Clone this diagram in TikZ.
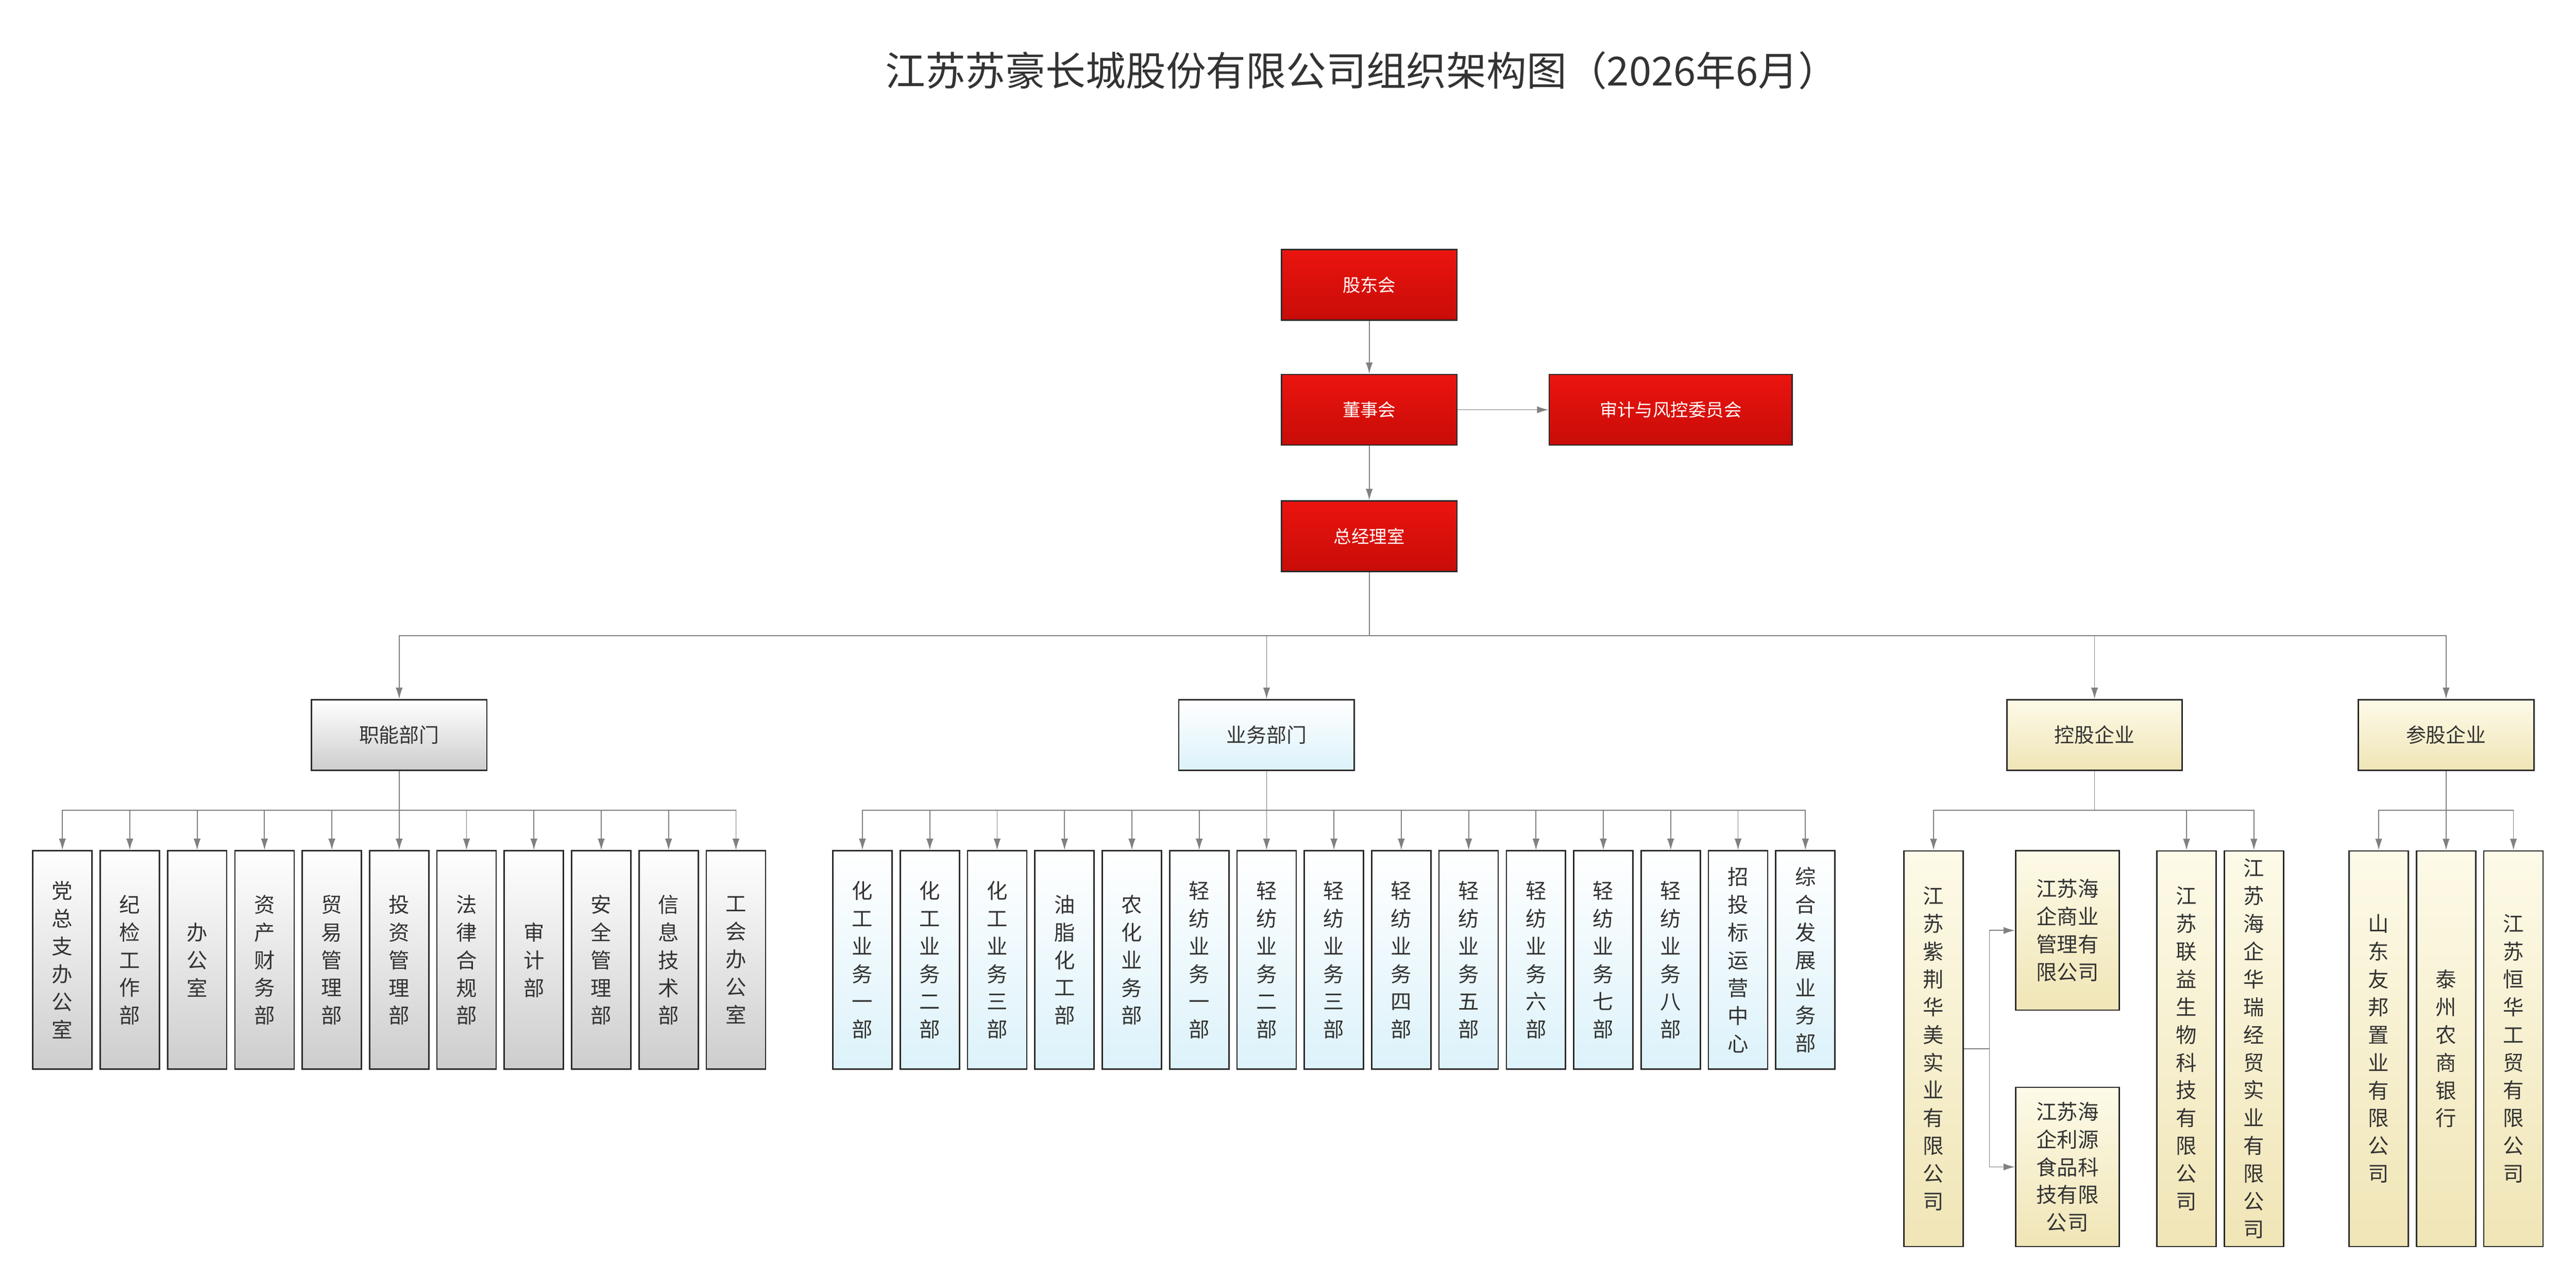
\documentclass[tikz,border=0pt]{standalone}
\usepackage{fontspec}
\setmainfont{Noto Sans CJK SC}
\XeTeXlinebreaklocale "zh"
\XeTeXlinebreakskip=0pt plus 1pt
\usetikzlibrary{arrows.meta}
\definecolor{bd}{HTML}{2B2B2B}
\definecolor{ln}{HTML}{808080}
\definecolor{tx}{HTML}{333333}
\begin{document}
\begin{tikzpicture}[x=0.03744cm,y=-0.03744cm,
 box/.style={draw=bd,line width=0.9pt,inner sep=0pt,align=center,text=tx},
 red/.style={box,top color=red!90!black!100,bottom color={rgb,255:red,200;green,12;blue,8},top color={rgb,255:red,235;green,20;blue,15},text=white,minimum width=4.0cm,minimum height=1.61cm,font=\fontsize{11.5pt}{14pt}\selectfont},
 grey/.style={box,top color=white,bottom color={rgb,255:red,205;green,205;blue,205}},
 blue/.style={box,top color=white,bottom color={rgb,255:red,220;green,242;blue,250}},
 yel/.style={box,top color={rgb,255:red,253;green,250;blue,232},bottom color={rgb,255:red,240;green,229;blue,182}},
 head/.style={minimum width=4.0cm,minimum height=1.61cm,font=\fontsize{13pt}{16pt}\selectfont},
 col/.style={minimum width=1.35cm,minimum height=4.98cm,text width=0.55cm,font=\fontsize{13.5pt}{18pt}\selectfont},
 tall/.style={col,minimum height=9.02cm},
 wide/.style={minimum width=2.36cm,minimum height=3.63cm,text width=1.6cm,font=\fontsize{13.5pt}{18pt}\selectfont},
 arr/.style={draw=ln,line width=0.6pt,-{Latex[length=2.6mm,width=1.6mm]}},
 ln/.style={draw=ln,line width=0.6pt}]
\useasboundingbox (0,0) rectangle (1568.1,778.6);
\node[text=tx,font=\fontsize{26pt}{30pt}\selectfont] (title) at (829,43) {江苏苏豪长城股份有限公司组织架构图（2026年6月）};
\node[red] (gd) at (833.5,173.5) {股东会};
\node[red] (dsh) at (833.5,249.5) {董事会};
\node[red,minimum width=5.54cm] (sj) at (1017,249.5) {审计与风控委员会};
\node[red] (zjl) at (833.5,326.5) {总经理室};
\draw[arr] (gd) -- (dsh);
\draw[arr] (dsh) -- (sj);
\draw[arr] (dsh) -- (zjl);
\node[grey,head] (zn) at (243,447.5) {职能部门};
\node[blue,head] (yw) at (771,447.5) {业务部门};
\node[yel,head] (kg) at (1275,447.5) {控股企业};
\node[yel,head] (cg) at (1489,447.5) {参股企业};
\coordinate (b1) at (833.5,387);
\draw[ln] (zjl.south) -- (b1);
\foreach \n in {zn,yw,kg,cg}{\draw[arr] (b1) -| (\n.north);}
% grey
\foreach \t [count=\i from 0] in {党总支办公室,纪检工作部,办公室,资产财务部,贸易管理部,投资管理部,法律合规部,审计部,安全管理部,信息技术部,工会办公室}{
 \node[grey,col] (g\i) at ({38+41*\i},584.5) {\t};
 \draw[arr] (zn.south) -- ++(0,24) -| (g\i.north);}
\foreach \t [count=\i from 0] in {化工业务一部,化工业务二部,化工业务三部,油脂化工部,农化业务部,轻纺业务一部,轻纺业务二部,轻纺业务三部,轻纺业务四部,轻纺业务五部,轻纺业务六部,轻纺业务七部,轻纺业务八部,招投标运营中心,综合发展业务部}{
 \node[blue,col] (u\i) at ({525+41*\i},584.5) {\t};
 \draw[arr] (yw.south) -- ++(0,24) -| (u\i.north);}
\node[yel,tall] (k1) at (1177,638.5) {江苏紫荆华美实业有限公司};
\node[yel,wide] (k2) at (1258.5,566.5) {江苏海企商业管理有限公司};
\node[yel,wide] (k3) at (1258.5,710.5) {江苏海企利源食品科技有限公司};
\node[yel,tall] (k4) at (1331,638.5) {江苏联益生物科技有限公司};
\node[yel,tall] (k5) at (1372,638.5) {江苏海企华瑞经贸实业有限公司};
\foreach \n in {k1,k4,k5}{\draw[arr] (kg.south) -- ++(0,24) -| (\n.north);}
\coordinate (m) at (1211,638.5);
\draw[ln] (k1.east) -- (m);
\draw[arr] (m) |- (k2.west);
\draw[arr] (m) |- (k3.west);
\foreach \t [count=\i from 0] in {山东友邦置业有限公司,泰州农商银行,江苏恒华工贸有限公司}{
 \node[yel,tall] (c\i) at ({1448+41*\i},638.5) {\t};
 \draw[arr] (cg.south) -- ++(0,24) -| (c\i.north);}
\end{tikzpicture}
\end{document}
